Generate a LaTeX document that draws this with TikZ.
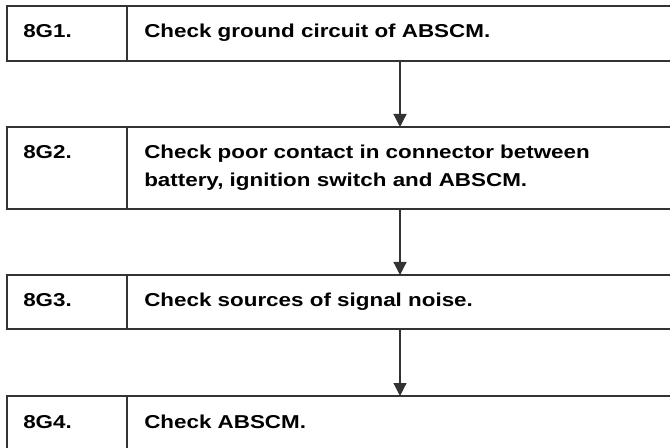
\documentclass[tikz,border=0pt]{standalone}
\usepackage{fontspec}
\setmainfont{Liberation Sans}
\newfontfamily\stepfont[FakeStretch=1.2]{Liberation Sans}
\usetikzlibrary{arrows.meta,positioning,calc}
\definecolor{lineg}{HTML}{333333}

\begin{document}
\begin{tikzpicture}[x=0.75pt,y=-0.75pt,node distance=49.5pt,
      every node/.style={font=\stepfont\bfseries\fontsize{14}{20.5}\selectfont},
      cell/.style={draw=lineg,line width=0.9pt,inner sep=0pt,outer sep=0pt,anchor=north west},
      numcell/.style={cell,minimum width=90pt},
      txtcell/.style={cell,minimum width=422pt},
      lbl/.style={anchor=base west,inner sep=0pt,text width=400pt,align=left},
      sepline/.style={lineg,line width=1.5pt},
      arrow/.style={-{Triangle[length=9.75pt,width=9.75pt]},lineg,line width=0.9pt}]
    \useasboundingbox (0,0) rectangle (670,448);
    \clip (0,0) rectangle (670,448);
    % step cells
    \node[numcell,minimum height=41.25pt] (n1) at (7,6) {};
    \node[txtcell,minimum height=41.25pt,right=0pt of n1] (t1) {};
    \node[numcell,minimum height=61.5pt,below=of n1] (n2) {};
    \node[txtcell,minimum height=61.5pt,right=0pt of n2] (t2) {};
    \node[numcell,minimum height=40.5pt,below=of n2] (n3) {};
    \node[txtcell,minimum height=40.5pt,right=0pt of n3] (t3) {};
    \node[numcell,minimum height=48pt,below=50.25pt of n3] (n4) {};
    \node[txtcell,minimum height=48pt,right=0pt of n4] (t4) {};
    % texts
    \foreach \i/\num/\txt in {1/8G1./Check ground circuit of ABSCM.,
        2/8G2./Check poor contact in connector between\\battery{,} ignition switch and ABSCM.,
        3/8G3./Check sources of signal noise.,
        4/8G4./Check ABSCM.}{
      \node[lbl] (l\i) at ($(n\i.north west)+(16,32)$) {\num};
      \node[lbl] (c\i) at ($(t\i.north west)+(17,32)$) {\txt};
      \draw[sepline] (t\i.north west) -- (t\i.south west);
    }
    % arrows
    \coordinate (ax) at (400,0);
    \draw[arrow] (t1.south -| ax) -- (t2.north -| ax);
    \draw[arrow] (t2.south -| ax) -- (t3.north -| ax);
    \draw[arrow] (t3.south -| ax) -- (t4.north -| ax);
  \end{tikzpicture}
\end{document}
